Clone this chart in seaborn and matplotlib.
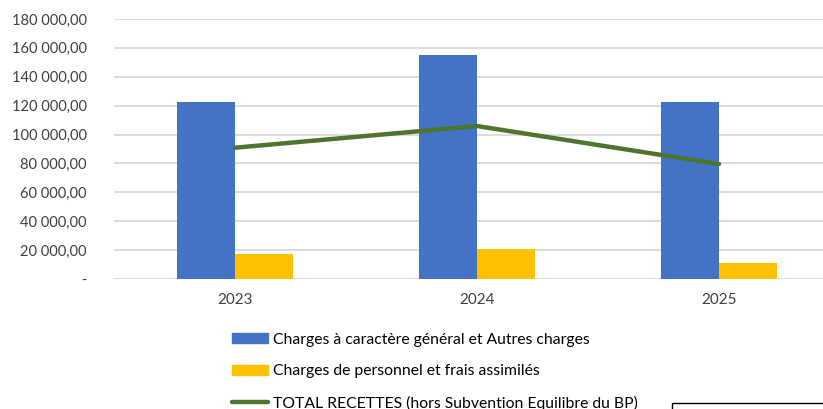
import matplotlib
matplotlib.use("Agg")
import matplotlib.pyplot as plt
import matplotlib.patches as mpatches
from matplotlib.lines import Line2D
from matplotlib.ticker import FuncFormatter
import seaborn as sns
import pandas as pd
import numpy as np

years = ["2023", "2024", "2025"]
charges_generales = [122300, 154800, 122800]
charges_personnel = [17300, 21000, 11000]
total_recettes = [90900, 105900, 79600]

lab_gen = "Charges à caractère général et Autres charges"
lab_pers = "Charges de personnel et frais assimilés"
lab_tot = "TOTAL RECETTES (hors Subvention Equilibre du BP)"

BLUE = "#4472C4"
YELLOW = "#FFC000"
GREEN = "#4E7430"

sns.set_theme(style="white")
plt.rcParams['font.family'] = ['Lato', 'DejaVu Sans']

df = pd.DataFrame({
    "year": years * 2,
    "value": charges_generales + charges_personnel,
    "serie": [lab_gen] * 3 + [lab_pers] * 3,
})

W, H = 823, 409
fig = plt.figure(figsize=(W / 100, H / 100), dpi=100)
left, right, top, bottom = 114, 840, 19, 279
ax = fig.add_axes([left / W, 1 - bottom / H, (right - left) / W, (bottom - top) / H])

sns.barplot(data=df, x="year", y="value", hue="serie", palette=[BLUE, YELLOW],
            width=0.476, gap=0, ax=ax, legend=False, saturation=1, linewidth=0)
sns.lineplot(x=np.arange(len(years)), y=total_recettes, color=GREEN, linewidth=3.2,
             ax=ax, legend=False, zorder=5)

ax.set_xlim(-0.5, len(years) - 0.5)
ax.set_ylim(0, 180000)
ax.set_yticks(np.arange(0, 180001, 20000))

def fmt(v, pos):
    if v == 0:
        return "-"
    s = f"{v:,.2f}"
    return s.replace(",", " ").replace(".", ",")

ax.yaxis.set_major_formatter(FuncFormatter(fmt))
ax.grid(axis="y", color="#D9D9D9", linewidth=1.3)
ax.set_axisbelow(True)
for s in ax.spines.values():
    s.set_visible(False)
ax.tick_params(axis="y", length=0, pad=19.5, labelsize=10.5, labelcolor="#404040")
ax.tick_params(axis="x", length=0, pad=10, labelsize=11, labelcolor="#404040")
ax.set_xlabel("")
ax.set_ylabel("")

handles = [
    mpatches.Patch(color=BLUE),
    mpatches.Patch(color=YELLOW),
    Line2D([0], [0], color=GREEN, linewidth=3.2),
]
leg = fig.legend(handles, [lab_gen, lab_pers, lab_tot], loc="upper left",
                 bbox_to_anchor=(232 / W, 1 - 333 / H), frameon=False,
                 fontsize=11.3, handlelength=2.3, handleheight=0.6,
                 handletextpad=0.3, labelspacing=1.1, borderpad=0, borderaxespad=0)
for t in leg.get_texts():
    t.set_color("#000000")

rect = mpatches.Rectangle((672 / W, -0.1), 0.5, 0.1 + (H - 403) / H,
                          transform=fig.transFigure, fill=False,
                          edgecolor="black", linewidth=1)
fig.patches.append(rect)

fig.savefig("out.png", dpi=100)
